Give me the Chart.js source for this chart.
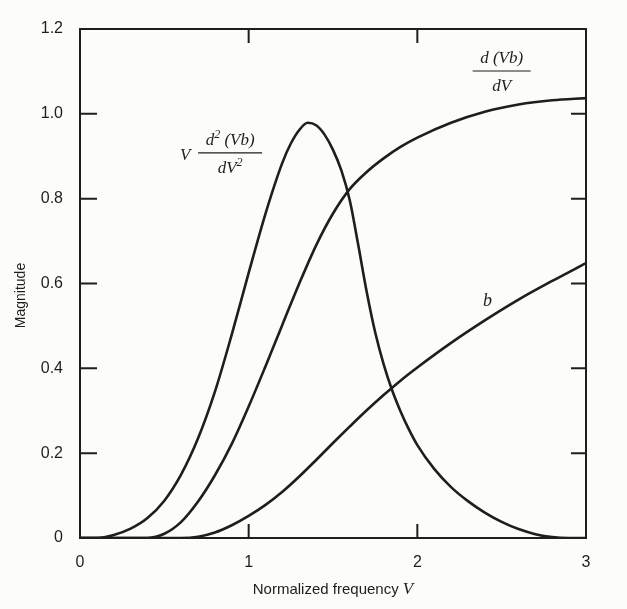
<!DOCTYPE html>
<html>
<head>
<meta charset="utf-8">
<script src="https://cdn.jsdelivr.net/npm/chart.js@4.4.1/dist/chart.umd.min.js"></script>
<style>
  html, body { margin: 0; padding: 0; background: #fcfcf8; }
  #wrap { width: 627px; height: 609px; }
</style>
</head>
<body>
<div id="wrap"><canvas id="chart"></canvas></div>
<script>
// V d^2(Vb)/dV^2
const peakV   = [0, 0.1, 0.2, 0.3, 0.4, 0.5, 0.6, 0.7, 0.8, 0.9, 1.0, 1.1, 1.2, 1.25, 1.3, 1.35, 1.4, 1.45, 1.5, 1.55, 1.6, 1.65, 1.7, 1.75, 1.8, 1.85, 1.9, 1.95, 2.0, 2.1, 2.2, 2.3, 2.4, 2.5, 2.6, 2.7, 2.8, 2.9, 3.0];
const peakMag = [0, 0, 0.007, 0.022, 0.047, 0.088, 0.15, 0.235, 0.345, 0.48, 0.625, 0.765, 0.885, 0.93, 0.962, 0.979, 0.973, 0.951, 0.915, 0.866, 0.795, 0.69, 0.58, 0.485, 0.41, 0.349, 0.299, 0.256, 0.219, 0.163, 0.12, 0.087, 0.06, 0.038, 0.021, 0.009, 0.002, 0, 0];

// d(Vb)/dV
const slopeV   = [0, 0.4, 0.5, 0.6, 0.7, 0.8, 0.9, 1.0, 1.1, 1.2, 1.3, 1.4, 1.5, 1.6, 1.7, 1.8, 1.9, 2.0, 2.2, 2.4, 2.6, 2.8, 3.0];
const slopeMag = [0, 0, 0.01, 0.038, 0.086, 0.148, 0.222, 0.31, 0.405, 0.503, 0.6, 0.69, 0.765, 0.823, 0.863, 0.895, 0.922, 0.944, 0.979, 1.005, 1.022, 1.032, 1.037];

// b
const bV   = [0, 0.6, 0.7, 0.8, 0.9, 1.0, 1.1, 1.2, 1.3, 1.4, 1.5, 1.6, 1.7, 1.8, 1.9, 2.0, 2.2, 2.4, 2.6, 2.8, 3.0];
const bMag = [0, 0, 0.003, 0.013, 0.03, 0.052, 0.078, 0.109, 0.145, 0.184, 0.224, 0.263, 0.301, 0.337, 0.371, 0.402, 0.46, 0.513, 0.562, 0.606, 0.648];

const xTicks = [0, 1, 2, 3];
const yTicks = [0, 0.2, 0.4, 0.6, 0.8, 1.0, 1.2];

const ink = '#1c1f1c';
const toPoints = (xs, ys) => xs.map((x, i) => ({ x: x, y: ys[i] }));

const lineSet = (data) => ({
    data: data,
    borderColor: ink,
    borderWidth: 2.6,
    pointRadius: 0,
    fill: false,
    cubicInterpolationMode: 'monotone'
});

// frame, inside ticks, axis titles and curve labels
const decor = {
    id: 'decor',
    afterDraw(chart) {
        const ctx = chart.ctx;
        const a = chart.chartArea;
        const xs = chart.scales.x, ys = chart.scales.y;
        ctx.save();
        ctx.strokeStyle = ink;
        ctx.lineWidth = 2;
        ctx.strokeRect(a.left, a.top, a.right - a.left, a.bottom - a.top);

        ctx.beginPath();
        yTicks.slice(1, -1).forEach(v => {
            const py = ys.getPixelForValue(v);
            ctx.moveTo(a.left, py); ctx.lineTo(a.left + 17, py);
            ctx.moveTo(a.right, py); ctx.lineTo(a.right - 15, py);
        });
        xTicks.slice(1, -1).forEach(v => {
            const px = xs.getPixelForValue(v);
            ctx.moveTo(px, a.bottom); ctx.lineTo(px, a.bottom - 14);
            ctx.moveTo(px, a.top); ctx.lineTo(px, a.top + 14);
        });
        ctx.stroke();

        ctx.fillStyle = ink;
        // y title
        ctx.save();
        ctx.translate(21, (a.top + a.bottom) / 2 + 12);
        ctx.rotate(-Math.PI / 2);
        ctx.font = '14px "Liberation Sans", Arial, sans-serif';
        ctx.textAlign = 'center';
        ctx.textBaseline = 'middle';
        ctx.fillText('Magnitude', 0, 0);
        ctx.restore();

        // x title
        const sans = '15px "Liberation Sans", Arial, sans-serif';
        const ital = 'italic 17px "Liberation Serif", "Times New Roman", serif';
        ctx.textBaseline = 'middle';
        ctx.textAlign = 'left';
        ctx.font = sans;
        const t1 = 'Normalized frequency ';
        const w1 = ctx.measureText(t1).width;
        ctx.font = ital;
        const w2 = ctx.measureText('V').width;
        let tx = (a.left + a.right) / 2 - (w1 + w2) / 2;
        ctx.font = sans;
        ctx.fillText(t1, tx, 590);
        ctx.font = ital;
        ctx.fillText('V', tx + w1, 590);

        // curve labels
        const serif = (s) => 'italic ' + s + 'px "Liberation Serif", "Times New Roman", serif';
        const drawParts = (parts, cx, cy) => {
            let total = 0;
            parts.forEach(p => { ctx.font = serif(p.sup ? 12 : 17); total += ctx.measureText(p.t).width; });
            let x = cx - total / 2;
            parts.forEach(p => {
                ctx.font = serif(p.sup ? 12 : 17);
                ctx.fillText(p.t, x, p.sup ? cy - 6 : cy);
                x += ctx.measureText(p.t).width;
            });
        };
        const frac = (cx, cy, num, den, width) => {
            ctx.beginPath();
            ctx.lineWidth = 1.2;
            ctx.moveTo(cx - width / 2, cy); ctx.lineTo(cx + width / 2, cy);
            ctx.stroke();
            drawParts(num, cx, cy - 12);
            drawParts(den, cx, cy + 16);
        };

        let cx = xs.getPixelForValue(0.89), cy = ys.getPixelForValue(0.908);
        frac(cx, cy, [{ t: 'd' }, { t: '2', sup: true }, { t: ' (Vb)' }], [{ t: 'dV' }, { t: '2', sup: true }], 64);
        ctx.font = serif(17);
        ctx.fillText('V', cx - 50, cy + 3);

        cx = xs.getPixelForValue(2.5); cy = ys.getPixelForValue(1.101);
        frac(cx, cy, [{ t: 'd (Vb)' }], [{ t: 'dV' }], 58);

        ctx.font = serif(18);
        ctx.fillText('b', xs.getPixelForValue(2.39), ys.getPixelForValue(0.557));
        ctx.restore();
    }
};

new Chart(document.getElementById('chart'), {
    type: 'line',
    data: {
        datasets: [
            lineSet(toPoints(peakV, peakMag)),
            lineSet(toPoints(slopeV, slopeMag)),
            lineSet(toPoints(bV, bMag))
        ]
    },
    options: {
        responsive: true,
        maintainAspectRatio: false,
        animation: false,
        layout: { padding: { top: 29, right: 41, left: 0, bottom: 0 } },
        plugins: { legend: { display: false }, tooltip: { enabled: false } },
        scales: {
            x: {
                type: 'linear', min: 0, max: 3,
                afterBuildTicks: (s) => { s.ticks = xTicks.map(v => ({ value: v })); },
                afterFit: (s) => { s.height = 71; },
                grid: { display: false },
                border: { display: false },
                ticks: { color: ink, padding: 7, font: { size: 16, family: '"Liberation Sans", Arial, sans-serif' } }
            },
            y: {
                min: 0, max: 1.2,
                afterBuildTicks: (s) => { s.ticks = yTicks.map(v => ({ value: v })); },
                afterFit: (s) => { s.width = 80; },
                grid: { display: false },
                border: { display: false },
                ticks: {
                    color: ink, padding: 9,
                    font: { size: 16, family: '"Liberation Sans", Arial, sans-serif' },
                    callback: (v) => v === 0 ? '0' : v.toFixed(1)
                }
            }
        }
    },
    plugins: [decor]
});
</script>
</body>
</html>
